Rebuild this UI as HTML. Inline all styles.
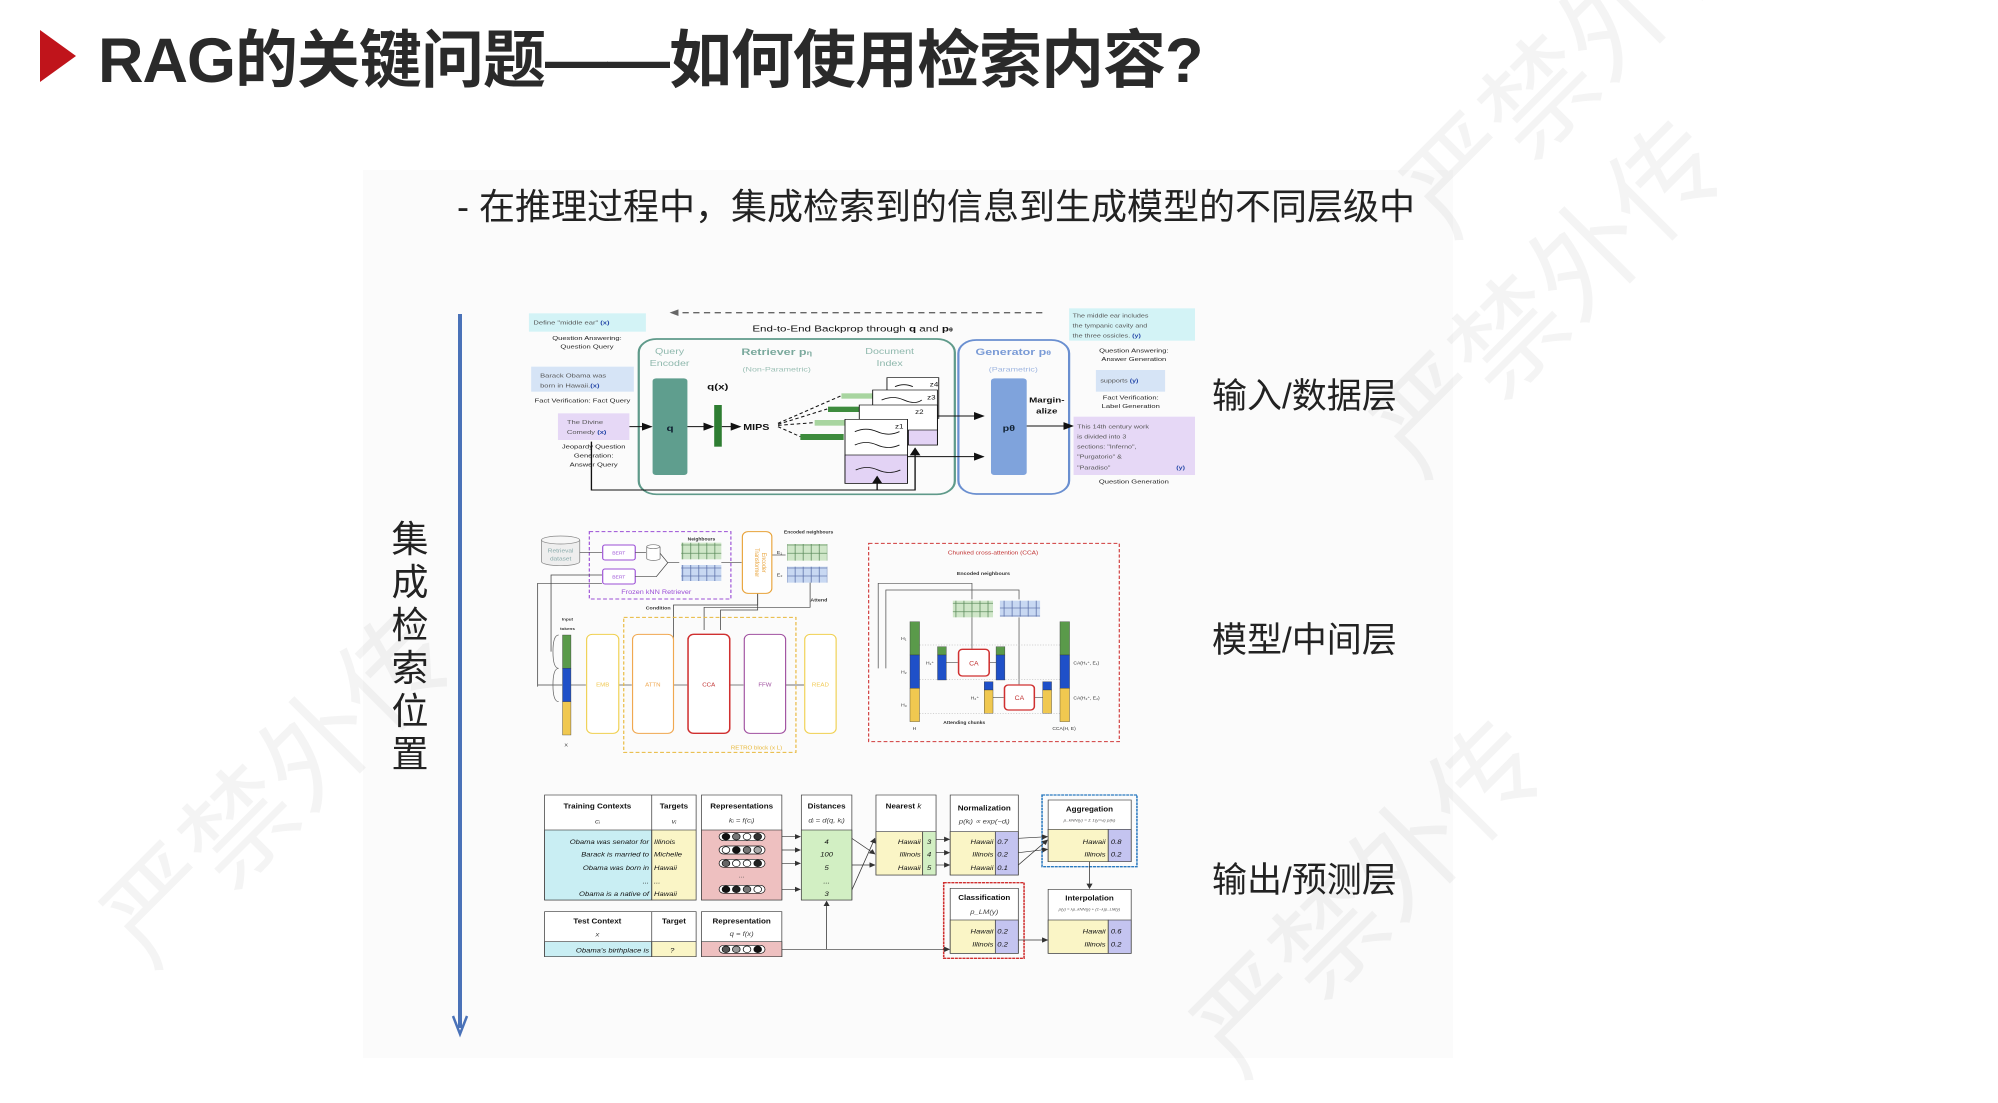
<!DOCTYPE html>
<html><head><meta charset="utf-8">
<style>
html,body{margin:0;padding:0;background:#fff;}
body{width:1998px;height:1058px;position:relative;overflow:hidden;font-family:"Liberation Sans","Noto Sans CJK SC",sans-serif;}
.abs{position:absolute;}
.title{left:98px;top:10px;font-size:63px;font-weight:bold;color:#2a2a2a;white-space:nowrap;letter-spacing:-1px;font-family:"Liberation Sans","Noto Sans CJK SC",sans-serif;}
.sub{left:457px;top:178px;font-size:36px;color:#222;white-space:nowrap;}
.lab{font-size:35px;color:#222;white-space:nowrap;left:1212px;}
.vt{left:388px;top:518px;width:44px;font-size:37px;line-height:43px;color:#222;text-align:center;}
.wm{color:rgba(0,0,0,0.045);white-space:nowrap;transform-origin:0 0;}
svg text{font-family:"Liberation Sans",sans-serif;}
</style></head><body>
<div class="abs" style="left:363px;top:170px;width:1090px;height:888px;background:#fbfbfb;"></div>

<svg class="abs" style="left:40px;top:30px" width="36" height="52"><polygon points="0,0 36,26 0,52" fill="#c0141b"/></svg>
<div class="abs title">RAG的关键问题——如何使用检索内容?</div>
<div class="abs sub">- 在推理过程中，集成检索到的信息到生成模型的不同层级中</div>

<div class="abs vt">集<br>成<br>检<br>索<br>位<br>置</div>
<svg class="abs" style="left:450px;top:310px" width="22" height="730">
<line x1="10" y1="4" x2="10" y2="718" stroke="#4a72b8" stroke-width="4"/>
<polyline points="3,706 10,724 17,706" fill="none" stroke="#4a72b8" stroke-width="2.5"/>
</svg>

<div class="abs lab" style="top:368px">输入/数据层</div>
<div class="abs lab" style="top:612px">模型/中间层</div>
<div class="abs lab" style="top:852px">输出/预测层</div>

<!-- Diagram 1 -->
<svg class="abs" style="left:520px;top:290px" width="700" height="220" viewBox="0 0 1568 660" preserveAspectRatio="none">
<defs><marker id="ah" markerWidth="8" markerHeight="8" refX="7" refY="4" orient="auto"><path d="M0,0 L8,4 L0,8z" fill="#111"/></marker></defs>
<rect x="20" y="70" width="262" height="55" fill="#d3f3f6"/>
<text x="30" y="104" font-size="17" font-family="Liberation Mono" fill="#555">Define "middle ear" <tspan fill="#2648a8" font-weight="bold">(x)</tspan></text>
<text x="150" y="150" font-size="17" text-anchor="middle" fill="#222">Question Answering:</text>
<text x="150" y="176" font-size="17" text-anchor="middle" fill="#222">Question Query</text>
<rect x="25" y="230" width="230" height="75" fill="#d6e4f6"/>
<text x="45" y="263" font-size="17" font-family="Liberation Mono" fill="#555">Barack Obama was</text>
<text x="45" y="293" font-size="17" font-family="Liberation Mono" fill="#555">born in Hawaii.<tspan fill="#2648a8" font-weight="bold">(x)</tspan></text>
<text x="140" y="338" font-size="17" text-anchor="middle" fill="#222">Fact Verification: Fact Query</text>
<rect x="85" y="370" width="160" height="80" fill="#e6d8f6"/>
<text x="105" y="402" font-size="17" font-family="Liberation Mono" fill="#555">The Divine</text>
<text x="105" y="432" font-size="17" font-family="Liberation Mono" fill="#555">Comedy <tspan fill="#2648a8" font-weight="bold">(x)</tspan></text>
<text x="165" y="475" font-size="17" text-anchor="middle" fill="#222">Jeopardy Question</text>
<text x="165" y="502" font-size="17" text-anchor="middle" fill="#222">Generation:</text>
<text x="165" y="529" font-size="17" text-anchor="middle" fill="#222">Answer Query</text>
<line x1="1170" y1="68" x2="345" y2="68" stroke="#666" stroke-width="4" stroke-dasharray="14,10"/>
<polygon points="335,68 355,58 355,78" fill="#666"/>
<text x="745" y="125" font-size="26" text-anchor="middle" fill="#111">End-to-End Backprop through <tspan font-weight="bold">q</tspan> and <tspan font-weight="bold">p</tspan><tspan font-size="16" font-weight="bold">θ</tspan></text>
<rect x="266" y="147" width="708" height="466" rx="40" fill="none" stroke="#5f9a8a" stroke-width="5"/>
<rect x="982" y="150" width="248" height="462" rx="40" fill="none" stroke="#6a8fd0" stroke-width="5"/>
<text x="335" y="192" font-size="24" text-anchor="middle" fill="#8fb8ad">Query</text>
<text x="335" y="228" font-size="24" text-anchor="middle" fill="#8fb8ad">Encoder</text>
<text x="575" y="195" font-size="28" font-weight="bold" text-anchor="middle" fill="#7ba99d">Retriever p<tspan font-size="20">η</tspan></text>
<text x="575" y="245" font-size="20" text-anchor="middle" fill="#9cc0b6">(Non-Parametric)</text>
<text x="828" y="192" font-size="24" text-anchor="middle" fill="#8fb8ad">Document</text>
<text x="828" y="228" font-size="24" text-anchor="middle" fill="#8fb8ad">Index</text>
<text x="1105" y="195" font-size="28" font-weight="bold" text-anchor="middle" fill="#7a9bd6">Generator p<tspan font-size="20">θ</tspan></text>
<text x="1105" y="245" font-size="20" text-anchor="middle" fill="#9fb6e0">(Parametric)</text>
<rect x="297" y="265" width="78" height="290" rx="8" fill="#5f9e8e"/>
<text x="336" y="423" font-size="26" font-weight="bold" text-anchor="middle" fill="#123">q</text>
<text x="443" y="298" font-size="26" font-weight="bold" text-anchor="middle" fill="#111">q(x)</text>
<rect x="435" y="345" width="17" height="125" fill="#2e7d32"/>
<line x1="245" y1="410" x2="294" y2="410" stroke="#111" stroke-width="3" marker-end="url(#ah)"/>
<line x1="375" y1="410" x2="432" y2="410" stroke="#111" stroke-width="3" marker-end="url(#ah)"/>
<line x1="452" y1="410" x2="493" y2="410" stroke="#111" stroke-width="3" marker-end="url(#ah)"/>
<text x="500" y="420" font-size="24" font-weight="bold" fill="#111">MIPS</text>
<g stroke="#111" stroke-width="3" stroke-dasharray="8,6" fill="none">
<line x1="578" y1="400" x2="718" y2="318"/><line x1="578" y1="403" x2="688" y2="357"/>
<line x1="578" y1="406" x2="658" y2="398"/><line x1="578" y1="410" x2="628" y2="440"/></g>
<rect x="720" y="310" width="75" height="16" fill="#a8d5a0"/>
<rect x="690" y="350" width="105" height="16" fill="#3d8b3d"/>
<rect x="660" y="390" width="135" height="17" fill="#a8d5a0"/>
<rect x="628" y="432" width="97" height="18" fill="#3d8b3d"/>
<rect x="822" y="263" width="116" height="122" fill="#fff" stroke="#111" stroke-width="2"/>
<text x="918" y="290" font-size="18" fill="#111">z4</text>
<rect x="790" y="300" width="145" height="120" fill="#fff" stroke="#111" stroke-width="2"/>
<text x="912" y="328" font-size="18" fill="#111">z3</text>
<rect x="760" y="345" width="175" height="120" fill="#fff" stroke="#111" stroke-width="2"/>
<rect x="870" y="420" width="65" height="45" fill="#e3d3f5" stroke="#111" stroke-width="2"/>
<text x="885" y="372" font-size="18" fill="#111">z2</text>
<rect x="728" y="388" width="140" height="192" fill="#fff" stroke="#111" stroke-width="2"/>
<rect x="728" y="495" width="140" height="85" fill="#e3d3f5" stroke="#111" stroke-width="2"/>
<text x="840" y="415" font-size="18" fill="#111">z1</text>
<g fill="none" stroke="#111" stroke-width="2.5">
<path d="M750,425 q25,-15 50,0 t50,0"/><path d="M750,465 q25,-15 50,0 t50,0"/><path d="M752,540 q25,-15 50,0 t50,0"/>
<path d="M840,290 q20,-12 40,0"/><path d="M810,330 q25,-15 50,0 t40,0"/></g>
<line x1="935" y1="378" x2="1038" y2="378" stroke="#111" stroke-width="3" marker-end="url(#ah)"/>
<line x1="868" y1="500" x2="1038" y2="500" stroke="#111" stroke-width="3" marker-end="url(#ah)"/>
<rect x="1055" y="265" width="80" height="290" rx="8" fill="#7fa3dc"/>
<text x="1095" y="423" font-size="24" font-weight="bold" text-anchor="middle" fill="#123">pθ</text>
<text x="1180" y="337" font-size="22" font-weight="bold" text-anchor="middle" fill="#111">Margin-</text>
<text x="1180" y="370" font-size="22" font-weight="bold" text-anchor="middle" fill="#111">alize</text>
<line x1="1135" y1="408" x2="1238" y2="408" stroke="#111" stroke-width="3" marker-end="url(#ah)"/>
<polyline points="160,455 160,600 885,600 885,475" fill="none" stroke="#111" stroke-width="3" marker-end="url(#ah)"/>
<line x1="800" y1="600" x2="800" y2="560" stroke="#111" stroke-width="3" marker-end="url(#ah)"/>
<rect x="1230" y="55" width="282" height="97" fill="#d3f3f6"/>
<text x="1238" y="82" font-size="16" font-family="Liberation Mono" fill="#555">The middle ear includes</text>
<text x="1238" y="112" font-size="16" font-family="Liberation Mono" fill="#555">the tympanic cavity and</text>
<text x="1238" y="142" font-size="16" font-family="Liberation Mono" fill="#555">the three ossicles. <tspan fill="#2648a8" font-weight="bold">(y)</tspan></text>
<text x="1375" y="187" font-size="17" text-anchor="middle" fill="#222">Question Answering:</text>
<text x="1375" y="213" font-size="17" text-anchor="middle" fill="#222">Answer Generation</text>
<rect x="1290" y="240" width="155" height="65" fill="#d6e4f6"/>
<text x="1300" y="278" font-size="16" font-family="Liberation Mono" fill="#555">supports <tspan fill="#2648a8" font-weight="bold">(y)</tspan></text>
<text x="1368" y="328" font-size="17" text-anchor="middle" fill="#222">Fact Verification:</text>
<text x="1368" y="354" font-size="17" text-anchor="middle" fill="#222">Label Generation</text>
<rect x="1240" y="380" width="272" height="175" fill="#e6d8f6"/>
<g font-size="16" font-family="Liberation Mono" fill="#555">
<text x="1248" y="415">This 14th century work</text><text x="1248" y="445">is divided into 3</text>
<text x="1248" y="475">sections: "Inferno",</text><text x="1248" y="505">"Purgatorio" &amp;</text>
<text x="1248" y="538">"Paradiso"</text></g>
<text x="1470" y="538" font-size="16" font-weight="bold" fill="#2648a8">(y)</text>
<text x="1375" y="580" font-size="17" text-anchor="middle" fill="#222">Question Generation</text>
</svg>

<!-- Diagram 2 -->
<svg class="abs" style="left:530px;top:520px" width="600" height="240" viewBox="0 0 1568 720" preserveAspectRatio="none">
<defs><marker id="a2" markerWidth="8" markerHeight="8" refX="7" refY="4" orient="auto"><path d="M0,0 L8,4 L0,8z" fill="#333"/></marker>
<pattern id="gg" width="21" height="25" patternUnits="userSpaceOnUse"><rect width="21" height="25" fill="#cfe6c8" stroke="#5a8a5a" stroke-width="2"/></pattern>
<pattern id="bb" width="21" height="24" patternUnits="userSpaceOnUse"><rect width="21" height="24" fill="#c8d8f2" stroke="#5a6fa8" stroke-width="2"/></pattern></defs>
<path d="M30,60 v65 a50,12 0 0 0 100,0 v-65" fill="#eee" stroke="#888" stroke-width="2"/>
<ellipse cx="80" cy="60" rx="50" ry="12" fill="#f6f6f6" stroke="#888" stroke-width="2"/>
<text x="80" y="98" font-size="17" text-anchor="middle" fill="#8aa" font-family="Liberation Serif">Retrieval</text>
<text x="80" y="122" font-size="17" text-anchor="middle" fill="#8aa" font-family="Liberation Serif">dataset</text>
<rect x="155" y="35" width="370" height="202" fill="none" stroke="#9b4fd6" stroke-width="3" stroke-dasharray="10,6"/>
<text x="330" y="222" font-size="19" text-anchor="middle" fill="#9b4fd6">Frozen kNN Retriever</text>
<rect x="190" y="75" width="85" height="45" rx="6" fill="#fff" stroke="#9b4fd6" stroke-width="3"/>
<rect x="190" y="147" width="85" height="45" rx="6" fill="#fff" stroke="#9b4fd6" stroke-width="3"/>
<text x="232" y="103" font-size="13" text-anchor="middle" fill="#9b4fd6" font-family="Liberation Serif">BERT</text>
<text x="232" y="175" font-size="13" text-anchor="middle" fill="#9b4fd6" font-family="Liberation Serif">BERT</text>
<path d="M305,80 v35 a17,6 0 0 0 35,0 v-35" fill="#fff" stroke="#777" stroke-width="2"/><ellipse cx="322" cy="80" rx="17" ry="6" fill="#fff" stroke="#777" stroke-width="2"/>
<g stroke="#444" stroke-width="2" fill="none">
<line x1="130" y1="97" x2="188" y2="97"/><line x1="275" y1="97" x2="303" y2="97"/>
<path d="M340,100 L360,128 L390,128"/><path d="M275,170 L330,170 L360,128"/>
<line x1="500" y1="128" x2="553" y2="128"/><line x1="632" y1="105" x2="668" y2="105"/>
<polyline points="20,500 20,190 188,190"/><polyline points="55,395 55,165 188,165"/>
<polyline points="732,180 732,262 455,262 455,330"/><polyline points="595,220 595,270 498,270 498,330"/>
<polyline points="375,495 375,255 595,255 595,222"/>
<line x1="20" y1="495" x2="84" y2="495"/>
<line x1="107" y1="495" x2="146" y2="495"/><line x1="232" y1="495" x2="266" y2="495"/>
<line x1="375" y1="495" x2="411" y2="495"/><line x1="522" y1="495" x2="558" y2="495"/><line x1="668" y1="495" x2="716" y2="495"/>
</g>
<text x="448" y="62" font-size="13" text-anchor="middle" fill="#333" font-family="Liberation Serif" font-weight="bold">Neighbours</text>
<rect x="395" y="68" width="105" height="50" fill="url(#gg)"/>
<rect x="395" y="135" width="105" height="48" fill="url(#bb)"/>
<rect x="555" y="35" width="77" height="185" rx="15" fill="#fff" stroke="#e8a33a" stroke-width="3"/>
<text transform="translate(588,128) rotate(90)" font-size="16" text-anchor="middle" fill="#e8a33a" font-family="Liberation Serif">Transformer</text>
<text transform="translate(606,128) rotate(90)" font-size="16" text-anchor="middle" fill="#e8a33a" font-family="Liberation Serif">Encoder</text>
<text x="728" y="40" font-size="13" text-anchor="middle" fill="#333" font-family="Liberation Serif" font-weight="bold">Encoded neighbours</text>
<rect x="672" y="72" width="105" height="50" fill="url(#gg)"/>
<rect x="672" y="140" width="105" height="48" fill="url(#bb)"/>
<text x="645" y="102" font-size="14" fill="#333">E₁</text><text x="645" y="170" font-size="14" fill="#333">E₂</text>
<text x="755" y="245" font-size="14" text-anchor="middle" fill="#333" font-family="Liberation Serif" font-weight="bold">Attend</text>
<text x="335" y="268" font-size="14" text-anchor="middle" fill="#333" font-family="Liberation Serif" font-weight="bold">Condition</text>
<text x="98" y="302" font-size="12" text-anchor="middle" fill="#333" font-family="Liberation Serif" font-weight="bold">Input</text>
<text x="98" y="330" font-size="12" text-anchor="middle" fill="#333" font-family="Liberation Serif" font-weight="bold">tokens</text>
<rect x="85" y="345" width="22" height="100" fill="#5a9a4a" stroke="#333"/>
<rect x="85" y="445" width="22" height="100" fill="#1f50c8" stroke="#333"/>
<rect x="85" y="545" width="22" height="100" fill="#f0c850" stroke="#333"/>
<text x="90" y="680" font-size="14" fill="#333">X</text>
<path d="M75,345 q-15,0 -15,50 q0,50 15,50 M75,445 q-15,0 -15,50 q0,50 15,50" fill="none" stroke="#666" stroke-width="2"/>
<rect x="245" y="292" width="450" height="405" fill="none" stroke="#e8b83a" stroke-width="3" stroke-dasharray="10,6"/>
<text x="592" y="688" font-size="16" text-anchor="middle" fill="#e8b83a" font-family="Liberation Serif">RETRO block (x L)</text>
<rect x="148" y="343" width="84" height="297" rx="15" fill="#fff" stroke="#f0d050" stroke-width="3"/>
<rect x="268" y="343" width="107" height="297" rx="15" fill="#fff" stroke="#f0a850" stroke-width="3"/>
<rect x="413" y="343" width="109" height="297" rx="15" fill="#fff" stroke="#d03030" stroke-width="4"/>
<rect x="560" y="343" width="108" height="297" rx="15" fill="#fff" stroke="#a050a0" stroke-width="3"/>
<rect x="718" y="343" width="82" height="297" rx="15" fill="#fff" stroke="#f0d050" stroke-width="3"/>
<g font-size="16" text-anchor="middle" font-family="Liberation Serif">
<text x="190" y="500" fill="#f0c850">EMB</text><text x="321" y="500" fill="#f0a850">ATTN</text>
<text x="467" y="500" fill="#c03030">CCA</text><text x="614" y="500" fill="#a050a0">FFW</text><text x="759" y="500" fill="#f0c850">READ</text></g>
<rect x="885" y="70" width="655" height="595" fill="none" stroke="#d03a3a" stroke-width="3" stroke-dasharray="10,6"/>
<text x="1210" y="104" font-size="17" text-anchor="middle" fill="#c03030" font-family="Liberation Serif">Chunked cross-attention (CCA)</text>
<text x="1185" y="165" font-size="14" text-anchor="middle" fill="#333" font-family="Liberation Serif" font-weight="bold">Encoded neighbours</text>
<rect x="1105" y="242" width="105" height="50" fill="url(#gg)"/>
<rect x="1228" y="242" width="105" height="48" fill="url(#bb)"/>
<g stroke="#555" stroke-width="2" fill="none">
<polyline points="910,445 910,190 1155,190 1155,238"/><polyline points="930,445 930,210 1278,210 1278,238"/>
<line x1="1155" y1="292" x2="1155" y2="386"/><line x1="1278" y1="292" x2="1278" y2="493"/>
<line x1="1088" y1="428" x2="1118" y2="428"/><line x1="1200" y1="428" x2="1218" y2="428"/>
<line x1="1210" y1="533" x2="1238" y2="533"/><line x1="1318" y1="533" x2="1340" y2="533"/></g>
<g stroke="#aaa" stroke-width="1.5" stroke-dasharray="3,4"><line x1="1018" y1="375" x2="1385" y2="375"/><line x1="1018" y1="478" x2="1385" y2="478"/><line x1="1018" y1="580" x2="1385" y2="580"/></g>
<rect x="993" y="305" width="25" height="100" fill="#5a9a4a" stroke="#333"/><rect x="993" y="405" width="25" height="100" fill="#1f50c8" stroke="#333"/><rect x="993" y="505" width="25" height="100" fill="#f0c850" stroke="#333"/>
<rect x="1385" y="305" width="25" height="100" fill="#5a9a4a" stroke="#333"/><rect x="1385" y="405" width="25" height="100" fill="#1f50c8" stroke="#333"/><rect x="1385" y="505" width="25" height="100" fill="#f0c850" stroke="#333"/>
<rect x="1065" y="380" width="23" height="25" fill="#5a9a4a" stroke="#333"/><rect x="1065" y="405" width="23" height="75" fill="#1f50c8" stroke="#333"/>
<rect x="1218" y="380" width="23" height="25" fill="#5a9a4a" stroke="#333"/><rect x="1218" y="405" width="23" height="75" fill="#1f50c8" stroke="#333"/>
<rect x="1187" y="485" width="23" height="25" fill="#1f50c8" stroke="#333"/><rect x="1187" y="510" width="23" height="70" fill="#f0c850" stroke="#333"/>
<rect x="1340" y="485" width="23" height="25" fill="#1f50c8" stroke="#333"/><rect x="1340" y="510" width="23" height="70" fill="#f0c850" stroke="#333"/>
<rect x="1120" y="388" width="80" height="80" rx="10" fill="#fff" stroke="#d03030" stroke-width="4"/>
<rect x="1240" y="495" width="78" height="75" rx="10" fill="#fff" stroke="#d03030" stroke-width="4"/>
<text x="1160" y="436" font-size="18" text-anchor="middle" fill="#c03030" font-family="Liberation Serif">CA</text>
<text x="1279" y="540" font-size="18" text-anchor="middle" fill="#c03030" font-family="Liberation Serif">CA</text>
<g font-size="13" fill="#333" font-family="Liberation Serif">
<text x="970" y="360">H₁</text><text x="970" y="460">H₂</text><text x="970" y="560">H₃</text><text x="1000" y="630">H</text>
<text x="1035" y="433">H₁⁺</text><text x="1152" y="538">H₂⁺</text>
<text x="1420" y="433">CA(H₁⁺, E₁)</text><text x="1420" y="538">CA(H₂⁺, E₂)</text><text x="1365" y="630">CCA(H, E)</text>
<text x="1080" y="612" font-weight="bold">Attending chunks</text></g>
</svg>

<!-- Diagram 3 -->
<svg class="abs" style="left:540px;top:790px" width="600" height="185" viewBox="0 0 1568 555" preserveAspectRatio="none">
<defs><marker id="a3" markerWidth="8" markerHeight="8" refX="7" refY="4" orient="auto"><path d="M0,0 L8,4 L0,8z" fill="#333"/></marker></defs>
<g stroke="#444" stroke-width="2">
<rect x="12" y="15" width="396" height="315" fill="#fff"/>
<rect x="12" y="120" width="280" height="210" fill="#c9eef3"/><rect x="292" y="120" width="116" height="210" fill="#faf5c6"/>
<line x1="292" y1="15" x2="292" y2="330"/>
<rect x="422" y="15" width="210" height="315" fill="#fff"/><rect x="422" y="120" width="210" height="210" fill="#eec0c0"/>
<rect x="683" y="15" width="132" height="315" fill="#fff"/><rect x="683" y="120" width="132" height="210" fill="#d2efc3"/>
<rect x="878" y="15" width="157" height="240" fill="#fff"/><rect x="878" y="125" width="122" height="130" fill="#faf5c6"/><rect x="1000" y="125" width="35" height="130" fill="#d2efc3"/>
<rect x="1072" y="15" width="178" height="240" fill="#fff"/><rect x="1072" y="125" width="118" height="130" fill="#faf5c6"/><rect x="1190" y="125" width="60" height="130" fill="#c4c4f0"/>
<rect x="1328" y="30" width="217" height="185" fill="#fff"/><rect x="1328" y="118" width="157" height="97" fill="#faf5c6"/><rect x="1485" y="118" width="60" height="97" fill="#c4c4f0"/>
<rect x="12" y="365" width="396" height="135" fill="#fff"/><rect x="12" y="455" width="280" height="45" fill="#c9eef3"/><rect x="292" y="455" width="116" height="45" fill="#faf5c6"/>
<line x1="292" y1="365" x2="292" y2="500"/>
<rect x="422" y="365" width="210" height="135" fill="#fff"/><rect x="422" y="455" width="210" height="45" fill="#eec0c0"/>
<rect x="1072" y="295" width="178" height="195" fill="#fff"/><rect x="1072" y="390" width="118" height="100" fill="#faf5c6"/><rect x="1190" y="390" width="60" height="100" fill="#c4c4f0"/>
<rect x="1328" y="298" width="217" height="192" fill="#fff"/><rect x="1328" y="390" width="157" height="100" fill="#faf5c6"/><rect x="1485" y="390" width="60" height="100" fill="#c4c4f0"/>
</g>
<rect x="1312" y="15" width="248" height="215" fill="none" stroke="#2a7ac0" stroke-width="4" stroke-dasharray="8,2"/>
<rect x="1055" y="278" width="210" height="227" fill="none" stroke="#d03030" stroke-width="4" stroke-dasharray="8,2"/>
<g font-size="21" font-weight="bold" text-anchor="middle" fill="#111">
<text x="150" y="55">Training Contexts</text><text x="350" y="55">Targets</text><text x="527" y="55">Representations</text>
<text x="749" y="55">Distances</text><text x="950" y="55">Nearest <tspan font-style="italic" font-weight="normal">k</tspan></text><text x="1161" y="62">Normalization</text>
<text x="1436" y="65">Aggregation</text><text x="150" y="400">Test Context</text><text x="350" y="400">Target</text><text x="527" y="400">Representation</text>
<text x="1161" y="330">Classification</text><text x="1436" y="332">Interpolation</text></g>
<g font-size="20" font-style="italic" text-anchor="middle" fill="#444" font-family="Liberation Serif">
<text x="150" y="100">cᵢ</text><text x="350" y="100">vᵢ</text><text x="527" y="98">kᵢ = f(cᵢ)</text><text x="749" y="98">dᵢ = d(q, kᵢ)</text>
<text x="1161" y="100">p(kᵢ) ∝ exp(−dᵢ)</text><text x="150" y="440">x</text><text x="527" y="438">q = f(x)</text><text x="1161" y="372">p_LM(y)</text></g>
<text x="1436" y="95" font-size="12" font-style="italic" text-anchor="middle" fill="#555">p_kNN(y) = Σ 1(y=vᵢ) p(kᵢ)</text>
<text x="1436" y="362" font-size="11" font-style="italic" text-anchor="middle" fill="#555">p(y) = λp_kNN(y) + (1−λ)p_LM(y)</text>
<g font-size="20" font-style="italic" fill="#111">
<g text-anchor="end"><text x="285" y="162">Obama was senator for</text><text x="285" y="200">Barack is married to</text><text x="285" y="240">Obama was born in</text><text x="285" y="280">...</text><text x="285" y="318">Obama is a native of</text><text x="285" y="488">Obama's birthplace is</text>
<text x="995" y="162">Hawaii</text><text x="995" y="200">Illinois</text><text x="995" y="240">Hawaii</text>
<text x="1185" y="162">Hawaii</text><text x="1185" y="200">Illinois</text><text x="1185" y="240">Hawaii</text>
<text x="1478" y="162">Hawaii</text><text x="1478" y="200">Illinois</text>
<text x="1185" y="430">Hawaii</text><text x="1185" y="470">Illinois</text><text x="1478" y="430">Hawaii</text><text x="1478" y="470">Illinois</text></g>
<text x="298" y="162">Illinois</text><text x="298" y="200">Michelle</text><text x="298" y="240">Hawaii</text><text x="298" y="280">...</text><text x="298" y="318">Hawaii</text><text x="340" y="488">?</text>
<g text-anchor="middle"><text x="749" y="162">4</text><text x="749" y="200">100</text><text x="749" y="240">5</text><text x="749" y="280">...</text><text x="749" y="318">3</text>
<text x="1017" y="162">3</text><text x="1017" y="200">4</text><text x="1017" y="240">5</text></g>
<text x="1195" y="162">0.7</text><text x="1195" y="200">0.2</text><text x="1195" y="240">0.1</text>
<text x="1492" y="162">0.8</text><text x="1492" y="200">0.2</text><text x="1195" y="430">0.2</text><text x="1195" y="470">0.2</text><text x="1492" y="430">0.6</text><text x="1492" y="470">0.2</text></g>
<g stroke="#111" stroke-width="2">
<g transform="translate(468,140)"><rect x="0" y="-12" width="120" height="24" rx="12" fill="#fff"/><circle cx="18" cy="0" r="10" fill="#111"/><circle cx="45" cy="0" r="10" fill="#777"/><circle cx="73" cy="0" r="10" fill="#fff"/><circle cx="101" cy="0" r="10" fill="#333"/></g>
<g transform="translate(468,180)"><rect x="0" y="-12" width="120" height="24" rx="12" fill="#fff"/><circle cx="18" cy="0" r="10" fill="#fff"/><circle cx="45" cy="0" r="10" fill="#111"/><circle cx="73" cy="0" r="10" fill="#777"/><circle cx="101" cy="0" r="10" fill="#aaa"/></g>
<g transform="translate(468,220)"><rect x="0" y="-12" width="120" height="24" rx="12" fill="#fff"/><circle cx="18" cy="0" r="10" fill="#666"/><circle cx="45" cy="0" r="10" fill="#fff"/><circle cx="73" cy="0" r="10" fill="#fff"/><circle cx="101" cy="0" r="10" fill="#222"/></g>
<g transform="translate(468,298)"><rect x="0" y="-12" width="120" height="24" rx="12" fill="#fff"/><circle cx="18" cy="0" r="10" fill="#111"/><circle cx="45" cy="0" r="10" fill="#222"/><circle cx="73" cy="0" r="10" fill="#777"/><circle cx="101" cy="0" r="10" fill="#fff"/></g>
<g transform="translate(468,478)"><rect x="0" y="-12" width="120" height="24" rx="12" fill="#fff"/><circle cx="18" cy="0" r="10" fill="#555"/><circle cx="45" cy="0" r="10" fill="#999"/><circle cx="73" cy="0" r="10" fill="#fff"/><circle cx="101" cy="0" r="10" fill="#111"/></g>
</g>
<text x="527" y="262" font-size="18" text-anchor="middle" fill="#444">...</text>
<g stroke="#333" stroke-width="2" fill="none" marker-end="url(#a3)">
<line x1="632" y1="140" x2="680" y2="140"/><line x1="632" y1="180" x2="680" y2="180"/><line x1="632" y1="220" x2="680" y2="220"/><line x1="632" y1="298" x2="680" y2="298"/>
<line x1="815" y1="145" x2="875" y2="192"/><line x1="815" y1="225" x2="875" y2="225"/><line x1="815" y1="300" x2="875" y2="145"/>
<line x1="1035" y1="148" x2="1070" y2="148"/><line x1="1035" y1="188" x2="1070" y2="188"/><line x1="1035" y1="225" x2="1070" y2="225"/>
<line x1="1250" y1="145" x2="1326" y2="140"/><line x1="1250" y1="188" x2="1326" y2="178"/><line x1="1250" y1="225" x2="1326" y2="150"/>
<line x1="1436" y1="215" x2="1436" y2="295"/><line x1="1250" y1="450" x2="1326" y2="450"/>
<polyline points="632,478 1070,478"/><line x1="749" y1="478" x2="749" y2="334"/></g>
</svg>

<!-- faint watermarks -->
<div class="abs wm" style="left:60px;top:880px;font-size:110px;transform:rotate(-45deg)">严禁外传</div>
<div class="abs wm" style="left:1330px;top:390px;font-size:110px;transform:rotate(-45deg)">严禁外传</div>
<div class="abs wm" style="left:1150px;top:990px;font-size:110px;transform:rotate(-45deg)">严禁外传</div>
<div class="abs wm" style="left:1360px;top:150px;font-size:110px;transform:rotate(-45deg)">严禁外传</div>
</body></html>
